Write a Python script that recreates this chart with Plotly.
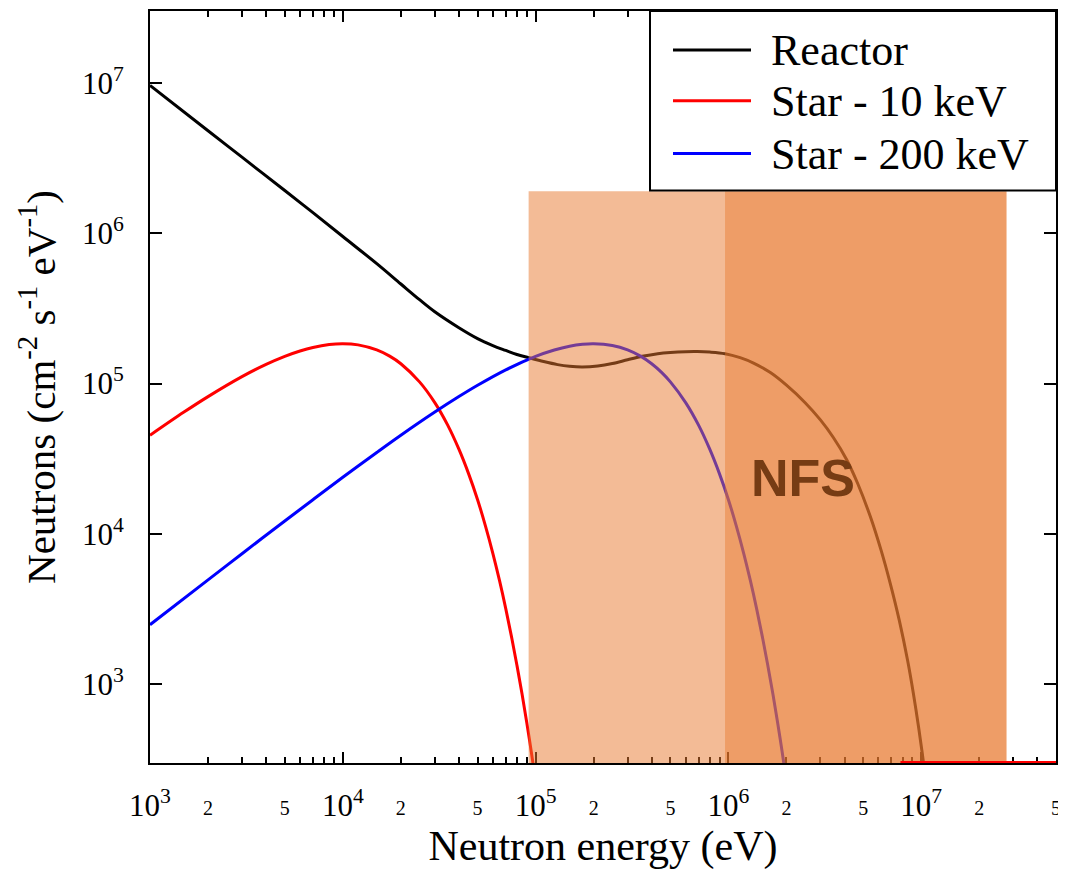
import plotly.graph_objects as go
import math

# ---------------- data ----------------
series_names = ["Reactor", "Star - 10 keV", "Star - 200 keV"]
series_colors = ["#000000", "#ff0000", "#0000ff"]

reactor_energy = [1e3, 2e3, 3e3, 5e3, 7e3, 1e4, 1.5e4, 2e4, 2.5e4, 3e4, 4e4, 5e4, 6e4,
                  7e4, 8e4, 9.2e4, 1.1e5, 1.3e5, 1.5e5, 1.75e5, 2.1e5, 2.5e5, 3e5,
                  3.57e5, 4.3e5, 5e5, 6e5, 6.9e5, 8e5, 9.6e5, 1.15e6, 1.35e6, 1.65e6,
                  2.0e6, 2.5e6, 3.0e6, 3.5e6, 4.1e6, 4.7e6, 5.45e6, 6.2e6, 6.9e6,
                  7.7e6, 8.5e6, 9.1e6, 9.7e6, 1.04e7, 1.1e7]
reactor_flux = [9.6e6, 4.8e6, 3.2e6, 1.92e6, 1.37e6, 9.5e5, 6.27e5, 4.59e5, 3.61e5,
                3.0e5, 2.35e5, 1.99e5, 1.79e5, 1.66e5, 1.56e5, 1.486e5, 1.40e5,
                1.336e5, 1.303e5, 1.29e5, 1.31e5, 1.36e5, 1.44e5, 1.517e5, 1.58e5,
                1.61e5, 1.63e5, 1.633e5, 1.62e5, 1.58e5, 1.486e5, 1.368e5, 1.183e5,
                9.75e4, 7.46e4, 5.73e4, 4.38e4, 3.13e4, 2.14e4, 1.30e4, 7.74e3,
                4.71e3, 2.65e3, 1.44e3, 8.73e2, 5.14e2, 2.67e2, 1.45e2]

star10_energy = [1e3, 1.5e3, 2e3, 3e3, 4e3, 5e3, 6e3, 7e3, 8.5e3, 1e4, 1.2e4, 1.5e4,
                 1.75e4, 2e4, 2.5e4, 3e4, 3.5e4, 4e4, 4.5e4, 5e4, 5.5e4, 6e4, 6.5e4,
                 7e4, 7.5e4, 8e4, 8.5e4, 9e4, 9.5e4, 1e5]
star10_flux = [4.53e4, 6.46e4, 8.19e4, 1.112e5, 1.341e5, 1.517e5, 1.647e5, 1.739e5,
               1.817e5, 1.84e5, 1.808e5, 1.674e5, 1.521e5, 1.354e5, 1.026e5, 7.47e4,
               5.29e4, 3.66e4, 2.5e4, 1.69e4, 1.124e4, 7.44e3, 4.89e3, 3.19e3, 2.07e3,
               1.34e3, 8.65e2, 5.56e2, 3.55e2, 2.27e2]

# values of the 10 keV curve that sit on the lower edge of the frame
star10_tail_energy = [7.8e6, 5e7]
star10_tail_flux = [302, 302]

star200_energy = [1e3, 2e3, 3e3, 5e3, 7e3, 1e4, 1.5e4, 2e4, 3e4, 4e4, 5e4, 7e4, 1e5,
                  1.25e5, 1.5e5, 1.75e5, 2e5, 2.5e5, 3e5, 3.5e5, 4e5, 4.5e5, 5e5, 6e5,
                  7e5, 8e5, 9e5, 1e6, 1.1e6, 1.2e6, 1.3e6, 1.4e6, 1.5e6, 1.6e6, 1.7e6,
                  1.8e6, 1.9e6, 2e6]
star200_flux = [2.49e3, 4.95e3, 7.39e3, 1.22e4, 1.69e4, 2.38e4, 3.48e4, 4.53e4, 6.46e4,
                8.19e4, 9.74e4, 1.234e5, 1.517e5, 1.673e5, 1.772e5, 1.824e5, 1.84e5,
                1.791e5, 1.674e5, 1.521e5, 1.354e5, 1.186e5, 1.026e5, 7.47e4, 5.29e4,
                3.66e4, 2.5e4, 1.69e4, 1.124e4, 7.44e3, 4.89e3, 3.19e3, 2.07e3, 1.34e3,
                8.65e2, 5.56e2, 3.55e2, 2.27e2]

# NFS energy bands (eV) and the band label
nfs_bands = [[9.2e4, 9.6e5], [9.6e5, 2.77e7]]
nfs_band_opacity = [0.5, 0.72]
nfs_top = 1.9e6
nfs_label = "NFS"
nfs_label_pos = [2.45e6, 2.37e4]

# axes
x_range = [1e3, 5e7]
y_range = [3e2, 3e7]
x_major = [1e3, 1e4, 1e5, 1e6, 1e7]
x_major_text = ["10<sup>3</sup>", "10<sup>4</sup>", "10<sup>5</sup>",
                "10<sup>6</sup>", "10<sup>7</sup>"]
x_small = [2e3, 5e3, 2e4, 5e4, 2e5, 5e5, 2e6, 5e6, 2e7, 5e7]
x_small_text = ["2", "5", "2", "5", "2", "5", "2", "5", "2", "5"]
x_minor = [k * 10 ** n for n in range(3, 8) for k in range(2, 10) if k * 10 ** n <= 5e7]
y_major = [1e3, 1e4, 1e5, 1e6, 1e7]
y_major_text = ["10<sup>3</sup>", "10<sup>4</sup>", "10<sup>5</sup>",
                "10<sup>6</sup>", "10<sup>7</sup>"]

x_title = "Neutron energy (eV)"
y_title = "Neutrons (cm<sup>-2</sup> s<sup>-1</sup> eV<sup>-1</sup>)"

SERIF = "Liberation Serif"

# ---------------- geometry (page pixels; the html body adds an 8px margin) ----------------
OFF = 8
W, H = 1066 - OFF, 877 - OFF
L, R, T, B = 150, 1056, 9, 763          # plot frame in page pixels
PW, PH = R - L, B - T


def px(xp):
    return (xp - L) / PW


def py(yp):
    return (B - yp) / PH


# ---------------- figure ----------------
fig = go.Figure()

curves = [(reactor_energy, reactor_flux), (star10_energy, star10_flux),
          (star200_energy, star200_flux)]
for (xs, ys), name, col in zip(curves, series_names, series_colors):
    fig.add_trace(go.Scatter(x=xs, y=ys, mode="lines", name=name,
                             line=dict(color=col, width=3, shape="spline", smoothing=1),
                             showlegend=False))

# translucent NFS bands drawn over the curves
for (lo, hi), op in zip(nfs_bands, nfs_band_opacity):
    fig.add_trace(go.Scatter(x=[lo, hi, hi, lo, lo],
                             y=[y_range[0], y_range[0], nfs_top, nfs_top, y_range[0]],
                             mode="lines", fill="toself",
                             fillcolor=f"rgba(231,119,45,{op})",
                             line=dict(width=0), hoverinfo="skip", showlegend=False))

fig.add_trace(go.Scatter(x=star10_tail_energy, y=star10_tail_flux, mode="lines",
                         line=dict(color=series_colors[1], width=3),
                         hoverinfo="skip", showlegend=False))

# dummy trace so the overlay axis for the 2 / 5 labels is drawn
fig.add_trace(go.Scatter(x=[None], y=[None], xaxis="x2", showlegend=False,
                         hoverinfo="skip"))

fig.add_annotation(x=math.log10(nfs_label_pos[0]), y=math.log10(nfs_label_pos[1]),
                   xref="x", yref="y", text=f"<b>{nfs_label}</b>", showarrow=False,
                   font=dict(family="Liberation Sans", size=52, color="#763c14"))

# ---------------- manual legend ----------------
fig.add_shape(type="rect", xref="paper", yref="paper",
              x0=px(650), x1=px(1056), y0=py(189), y1=py(9),
              fillcolor="white", line=dict(color="black", width=2), layer="above")
for i, (name, col) in enumerate(zip(series_names, series_colors)):
    yrow = [48, 99, 152][i]
    fig.add_shape(type="line", xref="paper", yref="paper",
                  x0=px(673), x1=px(751), y0=py(yrow), y1=py(yrow),
                  line=dict(color=col, width=3), layer="above")
    fig.add_annotation(xref="paper", yref="paper", x=px(769), y=py(yrow + 1),
                       xanchor="left", yanchor="middle", text=name, showarrow=False,
                       font=dict(family=SERIF, size=44, color="black"))

axis_common = dict(type="log", showgrid=False, zeroline=False, showline=True,
                   linecolor="black", linewidth=2, ticks="inside",
                   tickcolor="black", tickwidth=2, layer="below traces")

fig.update_layout(
    width=W, height=H,
    margin=dict(l=L - OFF, r=W - (R - OFF), t=T - OFF, b=H - (B - OFF), pad=0),
    paper_bgcolor="white", plot_bgcolor="white",
    font=dict(family=SERIF, color="black"),
    showlegend=False,
    xaxis=dict(**axis_common, range=[math.log10(x_range[0]), math.log10(x_range[1])],
               autorange=False, mirror="ticks", ticklen=11,
               tickmode="array", tickvals=x_major, ticktext=x_major_text,
               tickfont=dict(family=SERIF, size=31), ticklabelstandoff=14,
               minor=dict(tickmode="array", tickvals=x_minor, ticklen=6,
                          tickwidth=1.5, tickcolor="black", ticks="inside"),
               title=dict(text=x_title, font=dict(family=SERIF, size=42), standoff=6)),
    xaxis2=dict(type="log", overlaying="x", anchor="y", side="bottom",
                range=[math.log10(x_range[0]), math.log10(x_range[1])], autorange=False,
                showgrid=False, zeroline=False, showline=False, ticks="",
                tickmode="array", tickvals=x_small, ticktext=x_small_text,
                tickfont=dict(family=SERIF, size=20), ticklabelstandoff=31,
                ticklabeloverflow="allow"),
    yaxis=dict(**axis_common, range=[math.log10(y_range[0]), math.log10(y_range[1])],
               autorange=False, mirror="ticks", ticklen=12,
               tickmode="array", tickvals=y_major, ticktext=y_major_text,
               tickfont=dict(family=SERIF, size=31), ticklabelstandoff=18,
               title=dict(text=y_title, font=dict(family=SERIF, size=41), standoff=14)),
)

fig.write_html("out.html")
